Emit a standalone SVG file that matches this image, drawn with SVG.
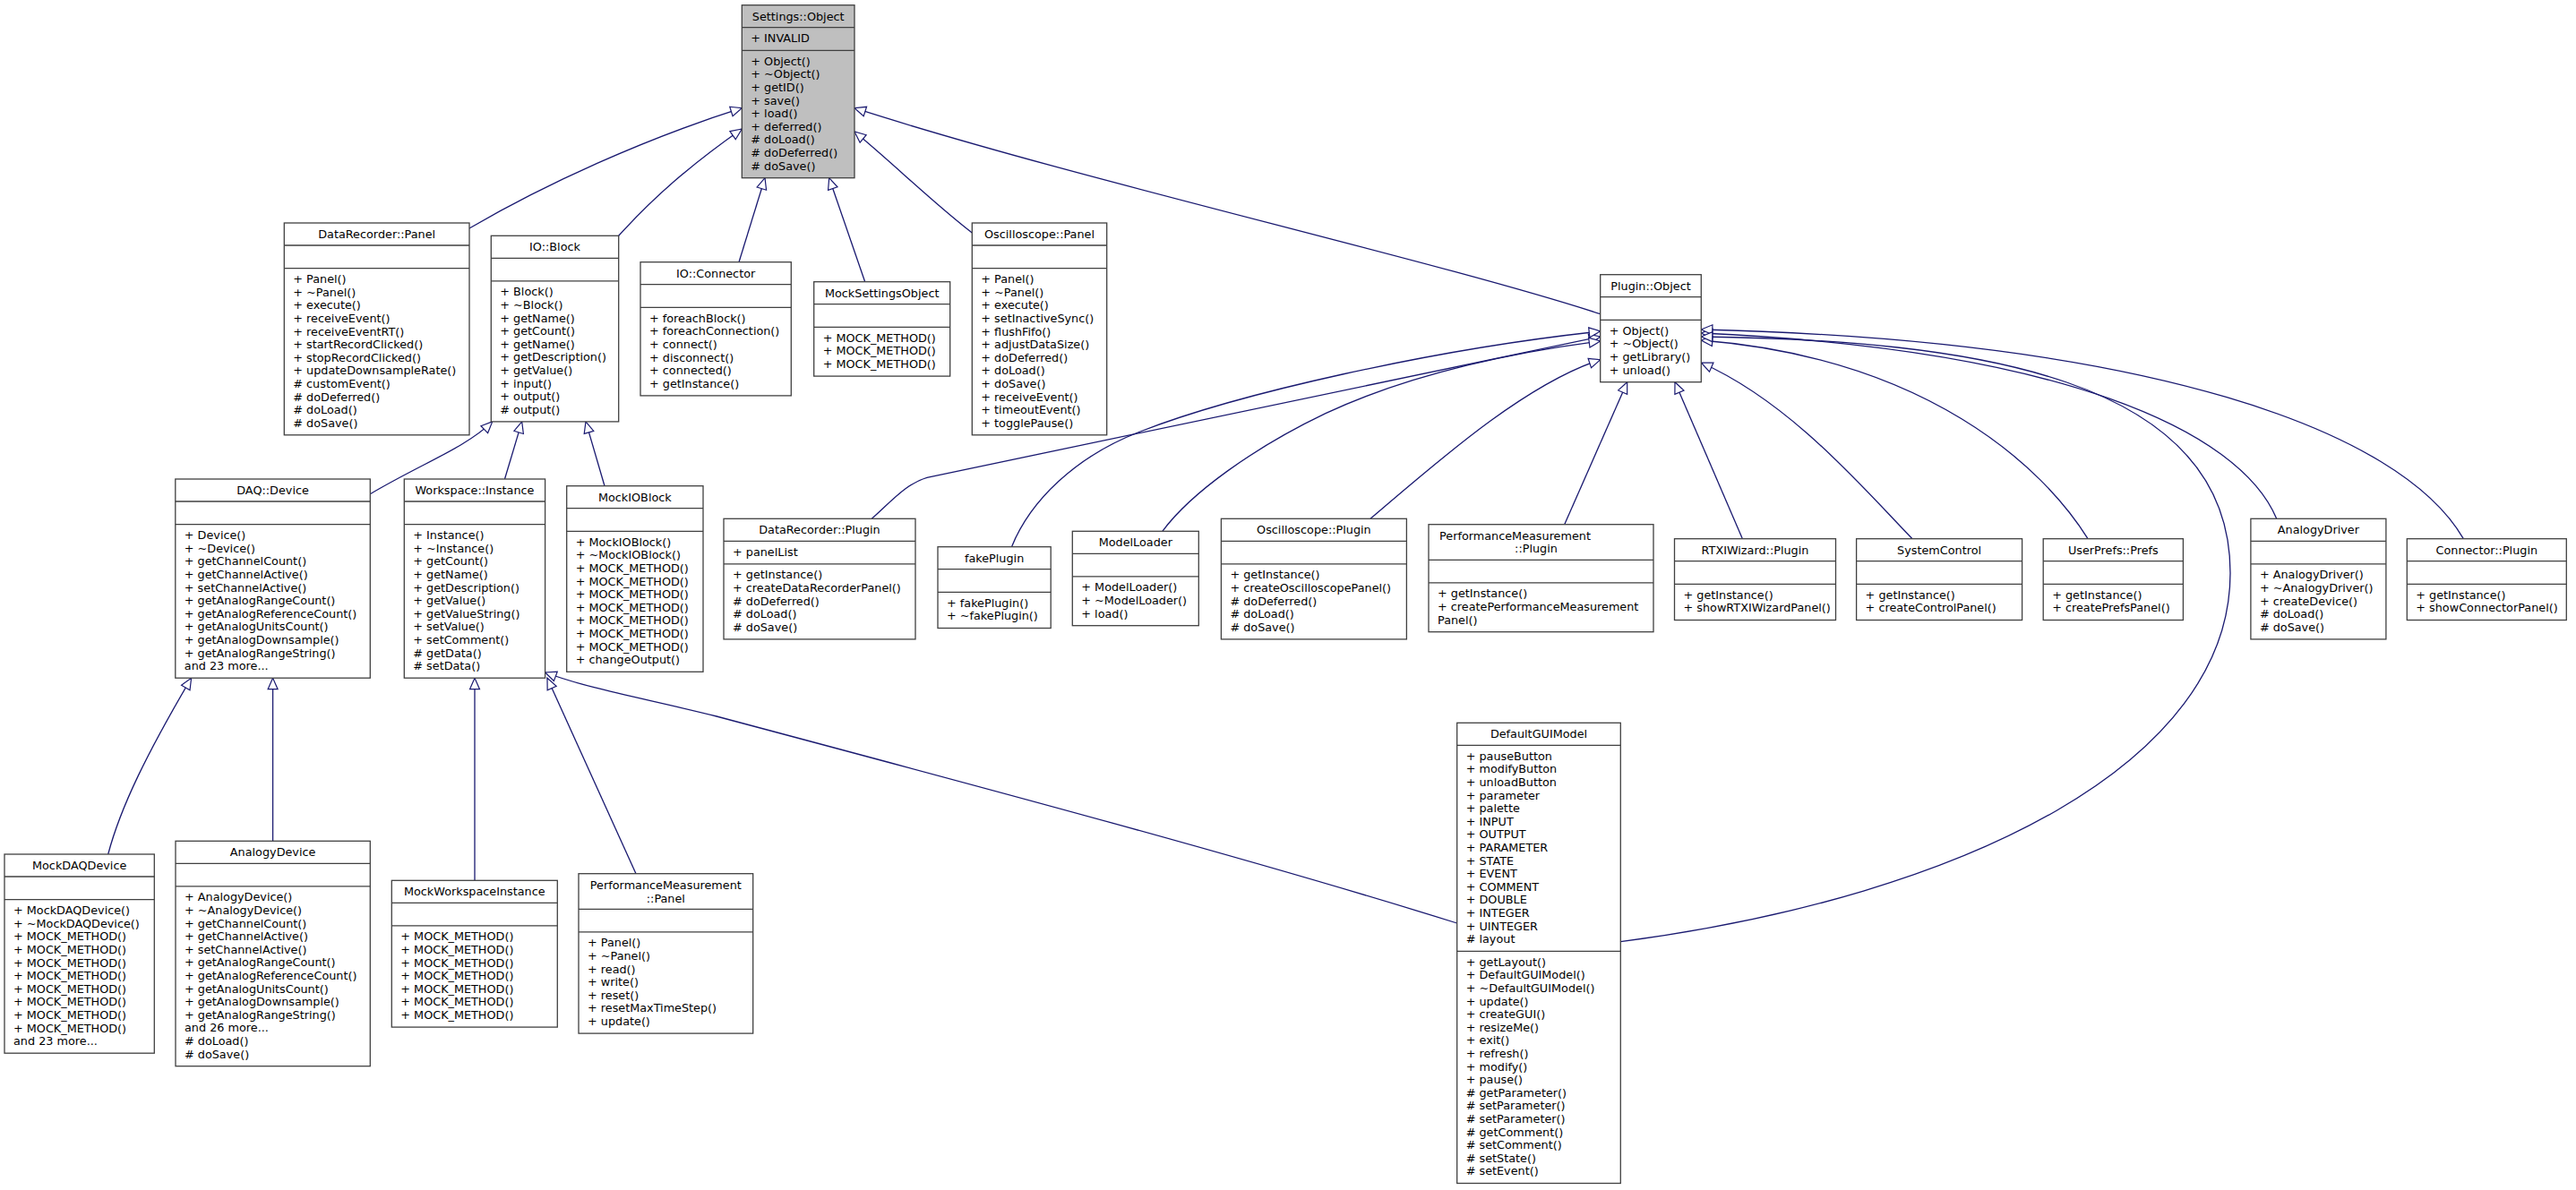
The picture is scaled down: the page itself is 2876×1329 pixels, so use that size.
<svg xmlns="http://www.w3.org/2000/svg" width="2876" height="1329" viewBox="0 0 2876 1329">
<defs>
<style>
.b{fill:#fff;stroke:#404040;stroke-width:1.3}
.g{fill:#bfbfbf;stroke:#404040;stroke-width:1.3}
.s{stroke:#404040;stroke-width:1.3;fill:none}
text{font-family:"DejaVu Sans","Liberation Sans",sans-serif;font-size:12.8px;fill:#000}
.c{text-anchor:middle}
.e path{fill:none;stroke:#191970;stroke-width:1.3;marker-end:url(#arr)}
</style>
<marker id="arr" markerUnits="userSpaceOnUse" markerWidth="16" markerHeight="14" refX="12.5" refY="5.5" orient="auto" overflow="visible">
<path d="M0,0 L12.5,5.5 L0,11 Z" fill="#fff" stroke="#191970" stroke-width="1.2"/>
</marker>
</defs>
<rect width="2876" height="1329" fill="#fff"/>

<g id="connectors" class="e">
<path d="M524,255 C610,205 720,155 828.3,120.7"/>
<path d="M690.7,263.3 C730,220 770,185 828.3,144"/>
<path d="M825,292.7 L854,198.7"/>
<path d="M965.7,314.7 L925.7,198.7"/>
<path d="M1085.3,260 C1040,225 1000,185 954,147"/>
<path d="M1786.7,350.7 C1600,290 1200,200 954,120.7"/>
<path d="M413.3,551.7 C470,518 520,500 549.7,470.9"/>
<path d="M563.5,535 L582.7,470.9"/>
<path d="M675,542.7 L654,470.9"/>
<path d="M973.3,579.3 C995,560 1012,540 1035,533.3 L1786.7,376"/>
<path d="M1129.5,610.7 C1150,560 1200,510 1273,482 C1380,440 1600,390 1786.7,370"/>
<path d="M1297.8,593.3 C1330,550 1400,500 1480,461.7 C1580,415 1700,392 1786.7,381"/>
<path d="M1530,579.3 C1600,520 1700,430 1786.7,401.7"/>
<path d="M1746.7,585.7 L1816.7,426.7"/>
<path d="M1945.4,601.7 L1870,426.7"/>
<path d="M2135,601.7 C2080,545 2000,450 1899.3,405"/>
<path d="M2331,601.7 C2280,520 2150,400 1899.3,380"/>
<path d="M2541.7,579.3 C2500,480 2300,390 1899.3,372"/>
<path d="M2750.3,601.7 C2680,480 2400,380 1899.3,368"/>
<path d="M1809.3,1051.7 C2200,1000 2490,850 2490,640 C2490,420 2200,380 1899.3,376"/>
<path d="M1626.7,1031 C1400,960 1100,880 800,800 C720,780 660,770 608.6,751"/>
<path d="M710,975.7 L611,757.2"/>
<path d="M530,983.3 L530,757.2"/>
<path d="M304.6,939.3 L304.6,757.2"/>
<path d="M120.7,954 C135,900 165,840 213.6,757.2"/>
</g>

<g id="settings_object">
<rect class="g" x="828.3" y="5.7" width="125.7" height="193"/>
<path class="s" d="M828.3,30.7H954M828.3,56.3H954"/>
<text class="c" x="891.2" y="22.7">Settings::Object</text>
<text x="838.3" y="47.2">+ INVALID</text>
<text x="838.3" y="72.8">+ Object()</text>
<text x="838.3" y="87.4">+ ~Object()</text>
<text x="838.3" y="102">+ getID()</text>
<text x="838.3" y="116.6">+ save()</text>
<text x="838.3" y="131.2">+ load()</text>
<text x="838.3" y="145.8">+ deferred()</text>
<text x="838.3" y="160.4"># doLoad()</text>
<text x="838.3" y="175"># doDeferred()</text>
<text x="838.3" y="189.6"># doSave()</text>
</g>

<g id="datarecorder_panel">
<rect class="b" x="317.3" y="249" width="206.7" height="236.8"/>
<path class="s" d="M317.3,274H524M317.3,299.6H524"/>
<text class="c" x="420.65" y="266">DataRecorder::Panel</text>
<text x="327.3" y="316.1">+ Panel()</text>
<text x="327.3" y="330.7">+ ~Panel()</text>
<text x="327.3" y="345.3">+ execute()</text>
<text x="327.3" y="359.9">+ receiveEvent()</text>
<text x="327.3" y="374.5">+ receiveEventRT()</text>
<text x="327.3" y="389.1">+ startRecordClicked()</text>
<text x="327.3" y="403.7">+ stopRecordClicked()</text>
<text x="327.3" y="418.3">+ updateDownsampleRate()</text>
<text x="327.3" y="432.9"># customEvent()</text>
<text x="327.3" y="447.5"># doDeferred()</text>
<text x="327.3" y="462.1"># doLoad()</text>
<text x="327.3" y="476.7"># doSave()</text>
</g>

<g id="io_block">
<rect class="b" x="548.3" y="263.3" width="142.4" height="207.6"/>
<path class="s" d="M548.3,288.3H690.7M548.3,313.9H690.7"/>
<text class="c" x="619.5" y="280.3">IO::Block</text>
<text x="558.3" y="330.4">+ Block()</text>
<text x="558.3" y="345">+ ~Block()</text>
<text x="558.3" y="359.6">+ getName()</text>
<text x="558.3" y="374.2">+ getCount()</text>
<text x="558.3" y="388.8">+ getName()</text>
<text x="558.3" y="403.4">+ getDescription()</text>
<text x="558.3" y="418">+ getValue()</text>
<text x="558.3" y="432.6">+ input()</text>
<text x="558.3" y="447.2">+ output()</text>
<text x="558.3" y="461.8"># output()</text>
</g>

<g id="io_connector">
<rect class="b" x="715" y="292.7" width="168.3" height="149.2"/>
<path class="s" d="M715,317.7H883.3M715,343.3H883.3"/>
<text class="c" x="799.15" y="309.7">IO::Connector</text>
<text x="725" y="359.8">+ foreachBlock()</text>
<text x="725" y="374.4">+ foreachConnection()</text>
<text x="725" y="389">+ connect()</text>
<text x="725" y="403.6">+ disconnect()</text>
<text x="725" y="418.2">+ connected()</text>
<text x="725" y="432.8">+ getInstance()</text>
</g>

<g id="mock_settings_object">
<rect class="b" x="908.7" y="314.7" width="152" height="105.4"/>
<path class="s" d="M908.7,339.7H1060.7M908.7,365.3H1060.7"/>
<text class="c" x="984.7" y="331.7">MockSettingsObject</text>
<text x="918.7" y="381.8">+ MOCK_METHOD()</text>
<text x="918.7" y="396.4">+ MOCK_METHOD()</text>
<text x="918.7" y="411">+ MOCK_METHOD()</text>
</g>

<g id="oscilloscope_panel">
<rect class="b" x="1085.3" y="249" width="150.4" height="236.8"/>
<path class="s" d="M1085.3,274H1235.7M1085.3,299.6H1235.7"/>
<text class="c" x="1160.5" y="266">Oscilloscope::Panel</text>
<text x="1095.3" y="316.1">+ Panel()</text>
<text x="1095.3" y="330.7">+ ~Panel()</text>
<text x="1095.3" y="345.3">+ execute()</text>
<text x="1095.3" y="359.9">+ setInactiveSync()</text>
<text x="1095.3" y="374.5">+ flushFifo()</text>
<text x="1095.3" y="389.1">+ adjustDataSize()</text>
<text x="1095.3" y="403.7">+ doDeferred()</text>
<text x="1095.3" y="418.3">+ doLoad()</text>
<text x="1095.3" y="432.9">+ doSave()</text>
<text x="1095.3" y="447.5">+ receiveEvent()</text>
<text x="1095.3" y="462.1">+ timeoutEvent()</text>
<text x="1095.3" y="476.7">+ togglePause()</text>
</g>

<g id="plugin_object">
<rect class="b" x="1786.7" y="306.7" width="112.6" height="120"/>
<path class="s" d="M1786.7,331.7H1899.3M1786.7,357.3H1899.3"/>
<text class="c" x="1843" y="323.7">Plugin::Object</text>
<text x="1796.7" y="373.8">+ Object()</text>
<text x="1796.7" y="388.4">+ ~Object()</text>
<text x="1796.7" y="403">+ getLibrary()</text>
<text x="1796.7" y="417.6">+ unload()</text>
</g>

<g id="daq_device">
<rect class="b" x="195.8" y="535" width="217.5" height="222.2"/>
<path class="s" d="M195.8,560H413.3M195.8,585.6H413.3"/>
<text class="c" x="304.55" y="552">DAQ::Device</text>
<text x="205.8" y="602.1">+ Device()</text>
<text x="205.8" y="616.7">+ ~Device()</text>
<text x="205.8" y="631.3">+ getChannelCount()</text>
<text x="205.8" y="645.9">+ getChannelActive()</text>
<text x="205.8" y="660.5">+ setChannelActive()</text>
<text x="205.8" y="675.1">+ getAnalogRangeCount()</text>
<text x="205.8" y="689.7">+ getAnalogReferenceCount()</text>
<text x="205.8" y="704.3">+ getAnalogUnitsCount()</text>
<text x="205.8" y="718.9">+ getAnalogDownsample()</text>
<text x="205.8" y="733.5">+ getAnalogRangeString()</text>
<text x="205.8" y="748.1">and 23 more...</text>
</g>

<g id="workspace_instance">
<rect class="b" x="451.3" y="535" width="157.3" height="222.2"/>
<path class="s" d="M451.3,560H608.6M451.3,585.6H608.6"/>
<text class="c" x="529.95" y="552">Workspace::Instance</text>
<text x="461.3" y="602.1">+ Instance()</text>
<text x="461.3" y="616.7">+ ~Instance()</text>
<text x="461.3" y="631.3">+ getCount()</text>
<text x="461.3" y="645.9">+ getName()</text>
<text x="461.3" y="660.5">+ getDescription()</text>
<text x="461.3" y="675.1">+ getValue()</text>
<text x="461.3" y="689.7">+ getValueString()</text>
<text x="461.3" y="704.3">+ setValue()</text>
<text x="461.3" y="718.9">+ setComment()</text>
<text x="461.3" y="733.5"># getData()</text>
<text x="461.3" y="748.1"># setData()</text>
</g>

<g id="mock_io_block">
<rect class="b" x="632.7" y="542.7" width="152.3" height="207.6"/>
<path class="s" d="M632.7,567.7H785M632.7,593.3H785"/>
<text class="c" x="708.85" y="559.7">MockIOBlock</text>
<text x="642.7" y="609.8">+ MockIOBlock()</text>
<text x="642.7" y="624.4">+ ~MockIOBlock()</text>
<text x="642.7" y="639">+ MOCK_METHOD()</text>
<text x="642.7" y="653.6">+ MOCK_METHOD()</text>
<text x="642.7" y="668.2">+ MOCK_METHOD()</text>
<text x="642.7" y="682.8">+ MOCK_METHOD()</text>
<text x="642.7" y="697.4">+ MOCK_METHOD()</text>
<text x="642.7" y="712">+ MOCK_METHOD()</text>
<text x="642.7" y="726.6">+ MOCK_METHOD()</text>
<text x="642.7" y="741.2">+ changeOutput()</text>
</g>

<g id="datarecorder_plugin">
<rect class="b" x="808" y="579.3" width="214" height="134.6"/>
<path class="s" d="M808,604.3H1022M808,629.9H1022"/>
<text class="c" x="915" y="596.3">DataRecorder::Plugin</text>
<text x="818" y="620.8">+ panelList</text>
<text x="818" y="646.4">+ getInstance()</text>
<text x="818" y="661">+ createDataRecorderPanel()</text>
<text x="818" y="675.6"># doDeferred()</text>
<text x="818" y="690.2"># doLoad()</text>
<text x="818" y="704.8"># doSave()</text>
</g>

<g id="fake_plugin">
<rect class="b" x="1047" y="610.7" width="126.2" height="90.8"/>
<path class="s" d="M1047,635.7H1173.2M1047,661.3H1173.2"/>
<text class="c" x="1110.1" y="627.7">fakePlugin</text>
<text x="1057" y="677.8">+ fakePlugin()</text>
<text x="1057" y="692.4">+ ~fakePlugin()</text>
</g>

<g id="model_loader">
<rect class="b" x="1197.3" y="593.3" width="141" height="105.4"/>
<path class="s" d="M1197.3,618.3H1338.3M1197.3,643.9H1338.3"/>
<text class="c" x="1267.8" y="610.3">ModelLoader</text>
<text x="1207.3" y="660.4">+ ModelLoader()</text>
<text x="1207.3" y="675">+ ~ModelLoader()</text>
<text x="1207.3" y="689.6">+ load()</text>
</g>

<g id="oscilloscope_plugin">
<rect class="b" x="1363.4" y="579.3" width="207" height="134.6"/>
<path class="s" d="M1363.4,604.3H1570.4M1363.4,629.9H1570.4"/>
<text class="c" x="1466.9" y="596.3">Oscilloscope::Plugin</text>
<text x="1373.4" y="646.4">+ getInstance()</text>
<text x="1373.4" y="661">+ createOscilloscopePanel()</text>
<text x="1373.4" y="675.6"># doDeferred()</text>
<text x="1373.4" y="690.2"># doLoad()</text>
<text x="1373.4" y="704.8"># doSave()</text>
</g>

<g id="performance_measurement_plugin">
<rect class="b" x="1595" y="585.7" width="251" height="120"/>
<path class="s" d="M1595,625.3H1846M1595,650.9H1846"/>
<text x="1607" y="602.7">PerformanceMeasurement</text>
<text class="c" x="1715" y="617.3">::Plugin</text>
<text x="1605" y="667.4">+ getInstance()</text>
<text x="1605" y="682">+ createPerformanceMeasurement</text>
<text x="1605" y="696.6">Panel()</text>
</g>

<g id="rtxiwizard_plugin">
<rect class="b" x="1869.5" y="601.7" width="180" height="90.8"/>
<path class="s" d="M1869.5,626.7H2049.5M1869.5,652.3H2049.5"/>
<text class="c" x="1959.5" y="618.7">RTXIWizard::Plugin</text>
<text x="1879.5" y="668.8">+ getInstance()</text>
<text x="1879.5" y="683.4">+ showRTXIWizardPanel()</text>
</g>

<g id="system_control">
<rect class="b" x="2072.6" y="601.7" width="185" height="90.8"/>
<path class="s" d="M2072.6,626.7H2257.6M2072.6,652.3H2257.6"/>
<text class="c" x="2165.1" y="618.7">SystemControl</text>
<text x="2082.6" y="668.8">+ getInstance()</text>
<text x="2082.6" y="683.4">+ createControlPanel()</text>
</g>

<g id="userprefs_prefs">
<rect class="b" x="2281.2" y="601.7" width="156.2" height="90.8"/>
<path class="s" d="M2281.2,626.7H2437.4M2281.2,652.3H2437.4"/>
<text class="c" x="2359.3" y="618.7">UserPrefs::Prefs</text>
<text x="2291.2" y="668.8">+ getInstance()</text>
<text x="2291.2" y="683.4">+ createPrefsPanel()</text>
</g>

<g id="analogy_driver">
<rect class="b" x="2512.9" y="579.3" width="151" height="134.6"/>
<path class="s" d="M2512.9,604.3H2663.9M2512.9,629.9H2663.9"/>
<text class="c" x="2588.4" y="596.3">AnalogyDriver</text>
<text x="2522.9" y="646.4">+ AnalogyDriver()</text>
<text x="2522.9" y="661">+ ~AnalogyDriver()</text>
<text x="2522.9" y="675.6">+ createDevice()</text>
<text x="2522.9" y="690.2"># doLoad()</text>
<text x="2522.9" y="704.8"># doSave()</text>
</g>

<g id="connector_plugin">
<rect class="b" x="2687.3" y="601.7" width="178" height="90.8"/>
<path class="s" d="M2687.3,626.7H2865.3M2687.3,652.3H2865.3"/>
<text class="c" x="2776.3" y="618.7">Connector::Plugin</text>
<text x="2697.3" y="668.8">+ getInstance()</text>
<text x="2697.3" y="683.4">+ showConnectorPanel()</text>
</g>

<g id="mock_daq_device">
<rect class="b" x="5" y="954" width="167.3" height="222.2"/>
<path class="s" d="M5,979H172.3M5,1004.6H172.3"/>
<text class="c" x="88.65" y="971">MockDAQDevice</text>
<text x="15" y="1021.1">+ MockDAQDevice()</text>
<text x="15" y="1035.7">+ ~MockDAQDevice()</text>
<text x="15" y="1050.3">+ MOCK_METHOD()</text>
<text x="15" y="1064.9">+ MOCK_METHOD()</text>
<text x="15" y="1079.5">+ MOCK_METHOD()</text>
<text x="15" y="1094.1">+ MOCK_METHOD()</text>
<text x="15" y="1108.7">+ MOCK_METHOD()</text>
<text x="15" y="1123.3">+ MOCK_METHOD()</text>
<text x="15" y="1137.9">+ MOCK_METHOD()</text>
<text x="15" y="1152.5">+ MOCK_METHOD()</text>
<text x="15" y="1167.1">and 23 more...</text>
</g>

<g id="analogy_device">
<rect class="b" x="196" y="939.3" width="217.3" height="251.4"/>
<path class="s" d="M196,964.3H413.3M196,989.9H413.3"/>
<text class="c" x="304.65" y="956.3">AnalogyDevice</text>
<text x="206" y="1006.4">+ AnalogyDevice()</text>
<text x="206" y="1021">+ ~AnalogyDevice()</text>
<text x="206" y="1035.6">+ getChannelCount()</text>
<text x="206" y="1050.2">+ getChannelActive()</text>
<text x="206" y="1064.8">+ setChannelActive()</text>
<text x="206" y="1079.4">+ getAnalogRangeCount()</text>
<text x="206" y="1094">+ getAnalogReferenceCount()</text>
<text x="206" y="1108.6">+ getAnalogUnitsCount()</text>
<text x="206" y="1123.2">+ getAnalogDownsample()</text>
<text x="206" y="1137.8">+ getAnalogRangeString()</text>
<text x="206" y="1152.4">and 26 more...</text>
<text x="206" y="1167"># doLoad()</text>
<text x="206" y="1181.6"># doSave()</text>
</g>

<g id="mock_workspace_instance">
<rect class="b" x="437.3" y="983.3" width="185" height="163.8"/>
<path class="s" d="M437.3,1008.3H622.3M437.3,1033.9H622.3"/>
<text class="c" x="529.8" y="1000.3">MockWorkspaceInstance</text>
<text x="447.3" y="1050.4">+ MOCK_METHOD()</text>
<text x="447.3" y="1065">+ MOCK_METHOD()</text>
<text x="447.3" y="1079.6">+ MOCK_METHOD()</text>
<text x="447.3" y="1094.2">+ MOCK_METHOD()</text>
<text x="447.3" y="1108.8">+ MOCK_METHOD()</text>
<text x="447.3" y="1123.4">+ MOCK_METHOD()</text>
<text x="447.3" y="1138">+ MOCK_METHOD()</text>
</g>

<g id="performance_measurement_panel">
<rect class="b" x="646" y="975.7" width="194.7" height="178.4"/>
<path class="s" d="M646,1015.3H840.7M646,1040.9H840.7"/>
<text class="c" x="743.35" y="993">PerformanceMeasurement</text>
<text class="c" x="743.35" y="1007.6">::Panel</text>
<text x="656" y="1057.4">+ Panel()</text>
<text x="656" y="1072">+ ~Panel()</text>
<text x="656" y="1086.6">+ read()</text>
<text x="656" y="1101.2">+ write()</text>
<text x="656" y="1115.8">+ reset()</text>
<text x="656" y="1130.4">+ resetMaxTimeStep()</text>
<text x="656" y="1145">+ update()</text>
</g>

<g id="default_gui_model">
<rect class="b" x="1626.7" y="807.3" width="182.6" height="514.2"/>
<path class="s" d="M1626.7,832.3H1809.3M1626.7,1062.3H1809.3"/>
<text class="c" x="1718" y="824.3">DefaultGUIModel</text>
<text x="1636.7" y="848.8">+ pauseButton</text>
<text x="1636.7" y="863.4">+ modifyButton</text>
<text x="1636.7" y="878">+ unloadButton</text>
<text x="1636.7" y="892.6">+ parameter</text>
<text x="1636.7" y="907.2">+ palette</text>
<text x="1636.7" y="921.8">+ INPUT</text>
<text x="1636.7" y="936.4">+ OUTPUT</text>
<text x="1636.7" y="951">+ PARAMETER</text>
<text x="1636.7" y="965.6">+ STATE</text>
<text x="1636.7" y="980.2">+ EVENT</text>
<text x="1636.7" y="994.8">+ COMMENT</text>
<text x="1636.7" y="1009.4">+ DOUBLE</text>
<text x="1636.7" y="1024">+ INTEGER</text>
<text x="1636.7" y="1038.6">+ UINTEGER</text>
<text x="1636.7" y="1053.2"># layout</text>
<text x="1636.7" y="1078.8">+ getLayout()</text>
<text x="1636.7" y="1093.4">+ DefaultGUIModel()</text>
<text x="1636.7" y="1108">+ ~DefaultGUIModel()</text>
<text x="1636.7" y="1122.6">+ update()</text>
<text x="1636.7" y="1137.2">+ createGUI()</text>
<text x="1636.7" y="1151.8">+ resizeMe()</text>
<text x="1636.7" y="1166.4">+ exit()</text>
<text x="1636.7" y="1181">+ refresh()</text>
<text x="1636.7" y="1195.6">+ modify()</text>
<text x="1636.7" y="1210.2">+ pause()</text>
<text x="1636.7" y="1224.8"># getParameter()</text>
<text x="1636.7" y="1239.4"># setParameter()</text>
<text x="1636.7" y="1254"># setParameter()</text>
<text x="1636.7" y="1268.6"># getComment()</text>
<text x="1636.7" y="1283.2"># setComment()</text>
<text x="1636.7" y="1297.8"># setState()</text>
<text x="1636.7" y="1312.4"># setEvent()</text>
</g>
</svg>
